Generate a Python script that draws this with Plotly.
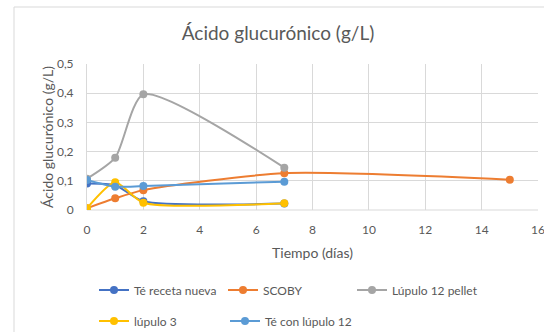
import plotly.graph_objects as go

# Data
dias = [0, 1, 2, 7]
dias_scoby = [0, 1, 2, 7, 15]
te_receta_nueva = [0.091, 0.085, 0.030, 0.022]
scoby = [0.006, 0.040, 0.068, 0.126, 0.104]
lupulo12_pellet = [0.107, 0.179, 0.396, 0.145]
lupulo3 = [0.006, 0.095, 0.025, 0.023]
te_con_lupulo12 = [0.103, 0.080, 0.082, 0.097]

series_names = ["Té receta nueva", "SCOBY", "Lúpulo 12 pellet", "lúpulo 3", "Té con lúpulo 12"]
series_x = [dias, dias_scoby, dias, dias, dias]
series_y = [te_receta_nueva, scoby, lupulo12_pellet, lupulo3, te_con_lupulo12]
series_colors = ["#4472C4", "#ED7D31", "#A5A5A5", "#FFC000", "#5B9BD5"]

FONT = "Lato"
GRAY = "#595959"
W, H = 544, 332
L, R, T, B = 87, 6, 64, 122

# legend entry placement (pixels in the page): left of symbol, vertical centre
legend_pos = [(97, 290), (226, 290), (355, 290), (97, 321), (228, 321)]

fig = go.Figure()
legend_layout = {}
for i, (name, x, y, c) in enumerate(zip(series_names, series_x, series_y, series_colors)):
    lg = "legend" if i == 0 else f"legend{i + 1}"
    fig.add_trace(go.Scatter(
        x=x, y=y, name=name, mode="lines+markers",
        line=dict(color=c, width=2, shape="spline", smoothing=0.65),
        marker=dict(color=c, size=8),
        legend=lg, showlegend=True,
    ))
    lx, ly = legend_pos[i]
    legend_layout[lg] = dict(orientation="h", xref="container", yref="container",
                             x=(lx - 3) / W, xanchor="left", y=1 - ly / H, yanchor="middle",
                             font=dict(size=12, color=GRAY), bgcolor="rgba(0,0,0,0)",
                             itemwidth=30, visible=True)

pw = W - L - R
ph = H - T - B
def px2x(p):
    return (p - L) / pw
def py2y(p):
    return (H - B - p) / ph

fig.update_layout(
    width=W, height=H,
    showlegend=True,
    margin=dict(l=L, r=R, t=T, b=B),
    paper_bgcolor="white", plot_bgcolor="white",
    separators=",.",
    font=dict(family=FONT, color=GRAY, size=11),
    title=dict(text="Ácido glucurónico (g/L)", x=278 / W, xanchor="center",
               y=1 - 33 / H, yanchor="middle", xref="container", yref="container",
               font=dict(family=FONT, size=19, color=GRAY)),
    xaxis=dict(range=[0, 16], dtick=2, showgrid=True, gridcolor="#D9D9D9", gridwidth=1,
               zeroline=False, showline=False, ticklabeloverflow="allow", automargin=False,
               tickfont=dict(size=12, color=GRAY), ticks="", ticklabelstandoff=11,
               title=dict(text="Tiempo (días)", font=dict(size=14, color=GRAY), standoff=12)),
    yaxis=dict(range=[0, 0.5], dtick=0.1, tickformat=".1~f", showgrid=True, gridcolor="#D9D9D9",
               zeroline=False, showline=True, linecolor="#D9D9D9", mirror=False, automargin=False,
               tickfont=dict(size=12, color=GRAY), ticks="", ticklabelstandoff=10,
               title=dict(text="Ácido glucurónico (g/L)", font=dict(size=14, color=GRAY), standoff=0)),
    shapes=[
        dict(type="line", xref="paper", yref="paper",
             x0=px2x(14), x1=px2x(14), y0=py2y(7), y1=py2y(340),
             line=dict(color="#D9D9D9", width=1)),
        dict(type="line", xref="paper", yref="paper",
             x0=px2x(14), x1=px2x(560), y0=py2y(7), y1=py2y(7),
             line=dict(color="#D9D9D9", width=1)),
        dict(type="line", xref="paper", yref="paper",
             x0=0, x1=1, y0=0, y1=0,
             line=dict(color="#D9D9D9", width=1), layer="below"),
    ],
    **legend_layout,
)

fig.write_html("out.html")
